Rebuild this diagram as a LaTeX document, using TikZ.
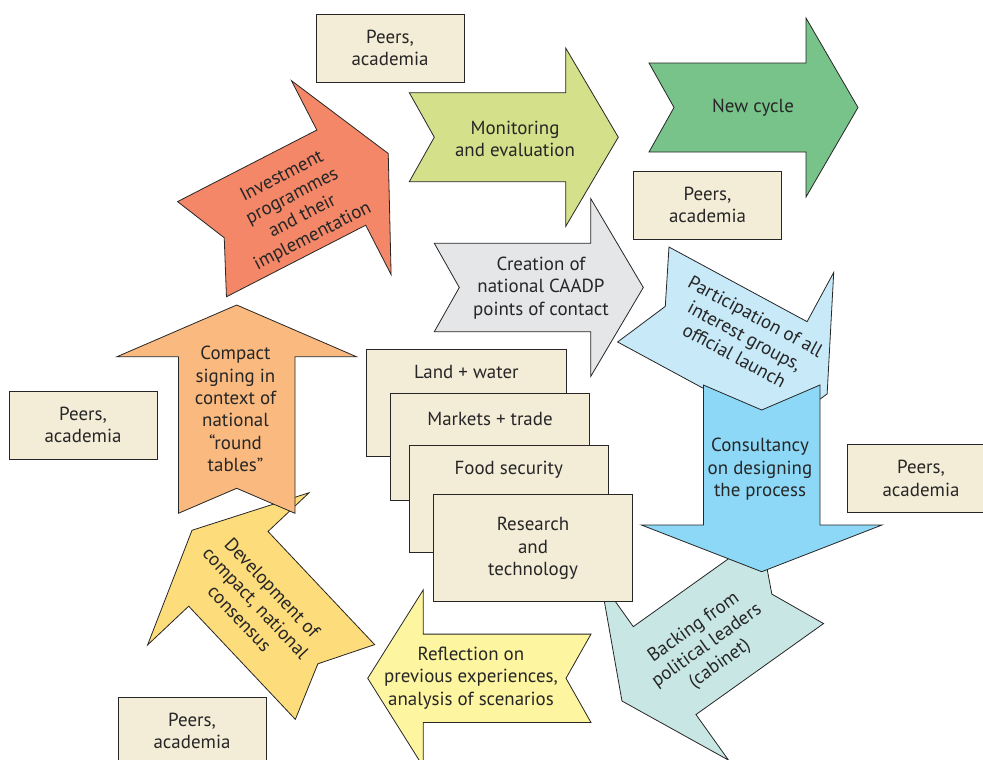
\documentclass[tikz,border=0pt]{standalone}
\usepackage{fontspec}
\setmainfont{PT Sans}
\usetikzlibrary{positioning}

\definecolor{investfill}{RGB}{243,135,104}
\definecolor{monitorfill}{RGB}{212,225,138}
\definecolor{cyclefill}{RGB}{119,195,138}
\definecolor{creationfill}{RGB}{229,230,232}
\definecolor{participfill}{RGB}{200,233,248}
\definecolor{consultfill}{RGB}{140,216,246}
\definecolor{backingfill}{RGB}{200,230,227}
\definecolor{reflectfill}{RGB}{253,245,160}
\definecolor{developfill}{RGB}{253,220,124}
\definecolor{compactfill}{RGB}{250,185,127}
\definecolor{peerfill}{RGB}{243,236,215}

% chevron arrow: fill, tail x, tail y, angle, shaft half width, shaft length, head half width, head length
\newcommand{\chevron}[8]{%
  \begin{scope}[shift={(#2,#3)},rotate=#4]
    \draw[outline,fill=#1] (0,#5) -- (#6,#5) -- (#6,#7) -- ({#6+#8},0)
      -- (#6,-#7) -- (#6,-#5) -- (0,-#5) -- (25,0) -- cycle;
  \end{scope}}

\begin{document}
\begin{tikzpicture}[x=0.75pt,y=-0.75pt,
  outline/.style={draw=black!85,line width=0.6pt},
  lbl/.style={align=center,text=black!85,inner sep=0pt,
    font=\fontsize{14.2}{16.8}\selectfont},
  peerbox/.style={outline,fill=peerfill,lbl,minimum width=111pt,minimum height=51pt},
  topicbox/.style={outline,fill=peerfill,minimum width=149.5pt,minimum height=80.2pt}]
\useasboundingbox (0,0) rectangle (983,760);
\clip (0,0) rectangle (983,760);

\chevron{investfill}{202}{249.2}{27.2}{53.5}{156.6}{109}{52.8}
\node[lbl,rotate=27.2] (invest) at (297.5,206.7)
  {Investment\\programmes\\and their\\implementation};
\chevron{developfill}{335}{682}{133.3}{54.5}{155.5}{111}{53}
\node[lbl,rotate=-46.7] (develop) at (256,603)
  {Development of\\compact, national\\consensus};
\chevron{compactfill}{236.7}{513.3}{90}{58.3}{156.6}{119.7}{51.7}
\node[lbl] (compact) at (235.5,409)
  {Compact\\signing in\\context of\\national\\``round\\tables''};
\chevron{monitorfill}{409.3}{137.2}{0}{44.5}{156.4}{89.2}{52.6}
\node[lbl] (monitor) at (515,139) {Monitoring\\and evaluation};
\chevron{cyclefill}{649}{107.5}{0}{44.5}{157}{89.5}{52}
\node[lbl] (cycle) at (753,108) {New cycle};
\chevron{creationfill}{434.3}{287.5}{0}{44.2}{156.4}{89}{52.6}
\node[lbl] (creation) at (541,288)
  {Creation of\\national CAADP\\points of contact};
\chevron{participfill}{643.3}{294.5}{-28.4}{54}{157}{110}{52}
\node[lbl,rotate=-28.4] (particip) at (745,336)
  {Participation of all\\interest groups,\\official launch};
\chevron{backingfill}{792.2}{579.6}{-144.5}{54}{156.7}{110}{52.4}
\node[lbl,rotate=35.5] (backing) at (707,646)
  {Backing from\\political leaders\\(cabinet)};
\chevron{consultfill}{761.7}{385}{-90}{58.3}{140}{120.3}{46.7}
\node[lbl] (consult) at (760,469.5)
  {Consultancy\\on designing\\the process};
\chevron{reflectfill}{591}{678.3}{180}{44.2}{167.7}{88.5}{55.6}
\node[lbl] (reflect) at (471,678)
  {Reflection on\\previous experiences,\\analysis of scenarios};

% topic stack
\node[topicbox] (land) at (466.3,403) {};
\node[lbl] at ([yshift=-16.8pt]land.north) {Land + water};
\node[topicbox] (markets) at (490,447.2) {};
\node[lbl] at ([yshift=-19pt]markets.north) {Markets + trade};
\node[topicbox] (food) at (508.7,499.2) {};
\node[lbl] at ([yshift=-18.5pt]food.north) {Food security};
\node[topicbox] (research) at (533,548.3) {};
\node[lbl] at (research) {Research\\and\\technology};

% peers boxes
\node[peerbox] (peersA) at (390,48) {Peers,\\academia};
\node[peerbox] (peersB) at (707.5,205) {Peers,\\academia};
\node[peerbox] (peersC) at (83,425) {Peers,\\academia};
\node[peerbox] (peersD) at (921,478.5) {Peers,\\academia};
\node[peerbox] (peersE) at (192,731) {Peers,\\academia};
\end{tikzpicture}
\end{document}
